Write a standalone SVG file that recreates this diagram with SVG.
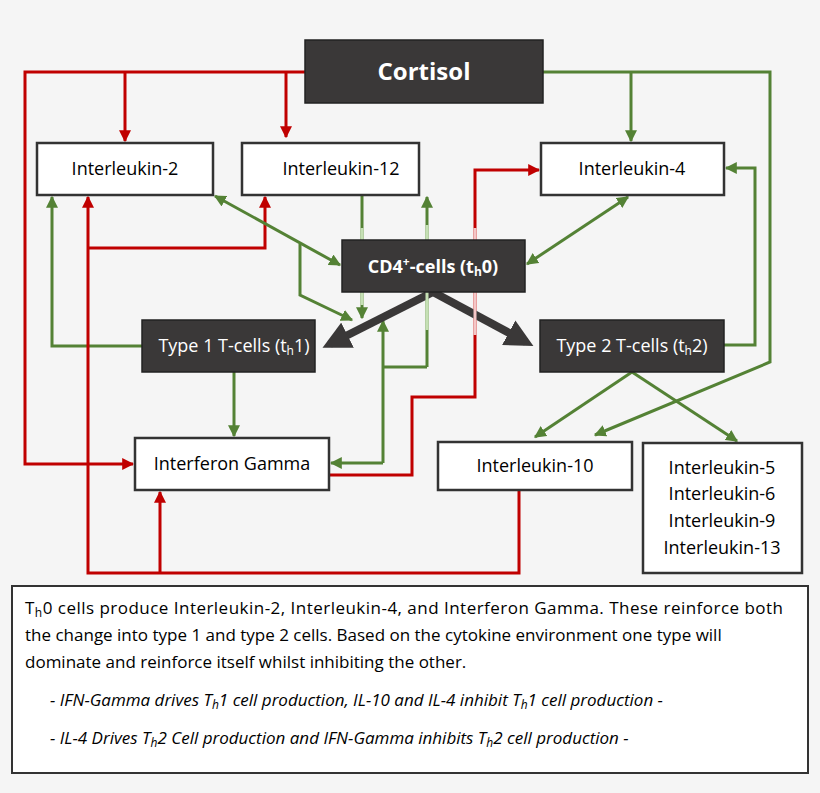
<svg xmlns="http://www.w3.org/2000/svg" width="820" height="793" viewBox="0 0 820 793">
<defs>
<marker id="ar" viewBox="0 0 10 10" refX="9" refY="5" markerWidth="4" markerHeight="4" orient="auto-start-reverse"><path d="M0,0L10,5L0,10z" fill="#c00000"/></marker>
<marker id="ag" viewBox="0 0 10 10" refX="9" refY="5" markerWidth="4" markerHeight="4" orient="auto-start-reverse"><path d="M0,0L10,5L0,10z" fill="#548235"/></marker>
<marker id="ak" viewBox="0 0 10 10" refX="7" refY="5" markerWidth="3.5" markerHeight="3.5" orient="auto"><path d="M0,0L10,5L0,10z" fill="#3a3838"/></marker>
</defs>
<style>
text{font-family:"Open Sans","Liberation Sans",sans-serif;font-size:17px;fill:#000}
.w{fill:#fff;stroke:#333;stroke-width:2.5}
.d{fill:#3a3838;stroke:#222;stroke-width:1.5}
.dt{fill:#fff;font-size:18px}
.n{font-size:18px}
.r{fill:none;stroke:#c00000;stroke-width:3}
.g{fill:none;stroke:#548235;stroke-width:3}
.k{fill:none;stroke:#3a3838;stroke-width:8}
</style>
<rect width="820" height="793" fill="#f5f5f5"/>
<g id="connectors">
<path class="r" d="M305,72H25V464H133" marker-end="url(#ar)"/>
<path class="r" d="M125,72V141" marker-end="url(#ar)"/>
<path class="r" d="M286,72V137" marker-end="url(#ar)"/>
<path class="g" d="M543,72H770V362L595,435" marker-end="url(#ag)"/>
<path class="g" d="M631,72V141" marker-end="url(#ag)"/>
<path class="g" d="M142,346H52V197" marker-end="url(#ag)"/>
<path class="r" d="M519,490V573H88V197" marker-end="url(#ar)"/>
<path class="r" d="M88,248H265V197" marker-end="url(#ar)"/>
<path class="r" d="M160,573V492" marker-end="url(#ar)"/>
<path class="g" d="M215,196L340,265" marker-start="url(#ag)" marker-end="url(#ag)"/>
<path class="g" d="M300,244V295L352,320" marker-end="url(#ag)"/>
<path class="g" d="M362,195V318" marker-end="url(#ag)"/>
<path class="g" d="M427,367V197" marker-end="url(#ag)"/>
<path class="g" d="M427,367H383"/>
<path class="g" d="M383,463H331" marker-end="url(#ag)"/>
<path class="g" d="M383,463V321" marker-end="url(#ag)"/>
<path class="r" d="M329,475H412V397H475V170H539" marker-end="url(#ar)"/>
<path class="g" d="M628,197L527,264" marker-start="url(#ag)" marker-end="url(#ag)"/>
<path class="g" d="M724,345H755V168H726" marker-end="url(#ag)"/>
<path class="g" d="M234,372V436" marker-end="url(#ag)"/>
<path class="g" d="M632,372L535,437" marker-end="url(#ag)"/>
<path class="g" d="M632,372L737,441" marker-end="url(#ag)"/>
<path class="k" d="M433,292L330,344" marker-end="url(#ak)"/>
<path class="k" d="M433,292L526,342" marker-end="url(#ak)"/>
<path d="M362,228V240M362,292V305M427,225V240M427,292V330" stroke="#c5e0b4" stroke-width="3"/>
<path d="M475,228V335" stroke="#f4c7c7" stroke-width="3"/>
</g>
<g id="cortisol"><rect class="d" x="305" y="40" width="238" height="63"/><text x="424" y="80" text-anchor="middle" style="fill:#fff;font-size:24px;font-weight:bold">Cortisol</text></g>
<g id="il2"><rect class="w" x="37" y="143" width="176" height="52"/><text class="n" x="125" y="175" text-anchor="middle">Interleukin-2</text></g>
<g id="il12"><rect class="w" x="242" y="143" width="177" height="52"/><text class="n" x="341" y="175" text-anchor="middle">Interleukin-12</text></g>
<g id="il4"><rect class="w" x="541" y="143" width="183" height="52"/><text class="n" x="632" y="175" text-anchor="middle">Interleukin-4</text></g>
<g id="cd4"><rect class="d" x="342" y="240" width="183" height="52"/><text x="433" y="273" text-anchor="middle" class="dt" style="font-weight:bold">CD4<tspan font-size="12" dy="-7">+</tspan><tspan dy="7">-cells (t</tspan><tspan font-size="12" dy="3">h</tspan><tspan dy="-3">0)</tspan></text></g>
<g id="type1"><rect class="d" x="142" y="320" width="173" height="52"/><text x="234" y="352" text-anchor="middle" class="dt">Type 1 T-cells (t<tspan font-size="12" dy="3">h</tspan><tspan dy="-3">1)</tspan></text></g>
<g id="type2"><rect class="d" x="540" y="320" width="184" height="52"/><text x="632" y="352" text-anchor="middle" class="dt">Type 2 T-cells (t<tspan font-size="12" dy="3">h</tspan><tspan dy="-3">2)</tspan></text></g>
<g id="ifn"><rect class="w" x="135" y="438" width="194" height="52"/><text class="n" x="232" y="470" text-anchor="middle">Interferon Gamma</text></g>
<g id="il10"><rect class="w" x="438" y="442" width="194" height="48"/><text class="n" x="535" y="472" text-anchor="middle">Interleukin-10</text></g>
<g id="il5"><rect class="w" x="643" y="443" width="159" height="130"/><text class="n" text-anchor="middle"><tspan x="722" y="474">Interleukin-5</tspan><tspan x="722" y="500">Interleukin-6</tspan><tspan x="722" y="527">Interleukin-9</tspan><tspan x="722" y="554">Interleukin-13</tspan></text></g>
<g id="note"><rect x="12" y="586" width="796" height="187" fill="#fff" stroke="#333" stroke-width="2"/>
<text x="25" y="614" textLength="758">T<tspan font-size="12" dy="3">h</tspan><tspan dy="-3">0 cells produce Interleukin-2, Interleukin-4, and Interferon Gamma. These reinforce both</tspan></text>
<text x="25" y="641">the change into type 1 and type 2 cells. Based on the cytokine environment one type will</text>
<text x="25" y="668">dominate and reinforce itself whilst inhibiting the other.</text>
<text x="50" y="706" font-style="italic">- IFN-Gamma drives T<tspan font-size="12" dy="3">h</tspan><tspan dy="-3">1 cell production, IL-10 and IL-4 inhibit T</tspan><tspan font-size="12" dy="3">h</tspan><tspan dy="-3">1 cell production -</tspan></text>
<text x="50" y="744" font-style="italic">- IL-4 Drives T<tspan font-size="12" dy="3">h</tspan><tspan dy="-3">2 Cell production and IFN-Gamma inhibits T</tspan><tspan font-size="12" dy="3">h</tspan><tspan dy="-3">2 cell production -</tspan></text>
</g>
</svg>
